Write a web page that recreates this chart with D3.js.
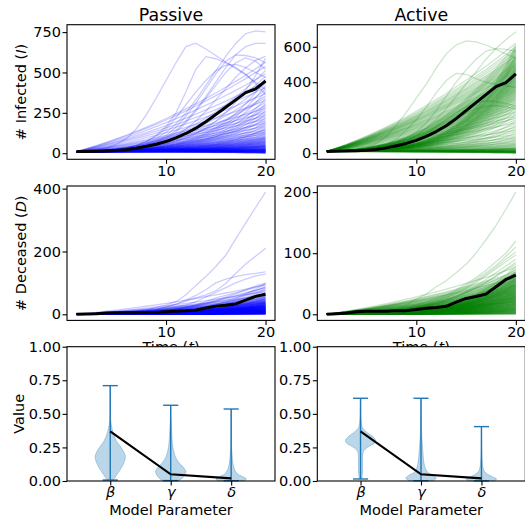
<!DOCTYPE html>
<html><head><meta charset="utf-8">
<script src="https://cdn.jsdelivr.net/npm/d3@7"></script>
<style>
body{margin:0;background:#fff}
svg text{font-family:"DejaVu Sans",sans-serif;fill:#000}
</style>
</head><body>
<svg id="chart" width="525" height="520"></svg>
<script>
// ---------------- DATA ----------------
const times = d3.range(1, 21);
const panelTitles = ["Passive", "Active"];
const observedInfected = [10,11,12,14,17,21,30,42,55,72,95,122,155,195,240,285,330,375,398,447];
const observedDeceased = [0,1,2,4,5,5,5,6,6,8,10,11,13,20,26,29,33,45,57,64];

// normalised growth shapes (0 at t=1, 1 at t=20) read from the bundles
const shapeSteady = [0,.004,.011,.021,.035,.053,.075,.103,.137,.177,.224,.279,.342,.412,.49,.577,.671,.773,.882,1];
const shapeLinear = [0,.032,.066,.103,.142,.183,.227,.272,.32,.371,.423,.478,.535,.595,.657,.721,.787,.856,.927,1];
const shapeLate   = [0,.001,.004,.008,.014,.021,.03,.043,.059,.081,.11,.147,.193,.252,.326,.417,.527,.658,.815,1];

// end-of-run (t=20) distributions of the simulated bundles: bin edges and line counts
const passiveInfectedEndBins   = [0,25,50,75,100,150,200,250,300,350,400,450,500,550,600];
const passiveInfectedEndCounts = [35,20,13,10,11,8,7,6,5,4,4,3,2,2];
const activeInfectedEndBins    = [0,15,30,60,100,150,200,250,300,350,400,450,500,550,600,625];
const activeInfectedEndCounts  = [25,12,9,7,6,6,7,10,13,16,18,18,15,10,3];
const passiveDeceasedEndBins   = [0,10,20,30,40,50,60,80,100];
const passiveDeceasedEndCounts = [40,35,28,20,12,8,7,5];
const activeDeceasedEndBins    = [0,10,20,30,40,50,60,70,80];
const activeDeceasedEndCounts  = [32,30,30,28,26,22,14,5];

// individually readable trajectories
const passiveInfectedOutliers = [
  [10,14,20,32,55,90,150,236,340,450,560,660,681,645,605,565,525,485,440,395],
  [10,12,14,18,24,33,48,72,110,165,250,380,520,598,585,560,530,490,430,365],
  [10,11,13,16,21,28,40,60,90,130,180,250,330,420,510,600,680,740,758,752],
  [10,11,12,14,18,24,34,50,70,100,140,200,270,350,440,530,610,660,680,680],
  [10,11,13,16,20,27,38,55,80,110,160,230,310,400,490,570,608,605,590,560],
  [10,11,12,15,19,25,35,50,68,90,130,190,260,340,420,500,560,590,570,520],
  [10,11,12,14,17,22,30,42,58,80,110,150,200,260,330,400,470,530,575,600],
  [10,12,14,18,24,33,48,70,105,150,220,300,380,450,510,545,550,530,500,470]
];
const activeInfectedOutliers = [
  [10,12,15,22,35,55,95,160,230,310,390,480,560,610,633,628,610,585,560,535],
  [10,11,13,16,22,32,50,80,130,190,260,340,410,450,445,420,400,390,380,370],
  [10,11,12,14,17,22,30,42,60,100,140,190,250,320,390,460,530,590,640,685],
  [10,11,13,16,21,28,40,58,85,120,170,240,320,400,470,530,575,590,585,575],
  [10,11,12,14,17,22,30,42,58,80,110,150,190,230,260,285,295,290,280,265],
  [10,11,12,14,17,21,28,38,52,70,95,125,160,195,225,250,265,268,262,250]
];
const passiveDeceasedOutliers = [
  [0,1,2,3,5,7,10,14,22,30,40,62,92,120,152,188,240,290,340,389],
  [0,1,2,3,4,6,8,11,15,25,32,42,52,62,75,98,130,160,185,210],
  [0,1,2,3,4,6,8,11,15,22,32,45,60,78,100,112,120,126,130,135],
  [0,1,2,3,4,5,7,9,12,18,24,30,40,55,70,85,100,112,122,128],
  [0,1,2,3,4,5,6,8,10,13,17,22,28,36,45,55,66,78,90,100],
  [0,1,2,3,4,5,6,7,9,12,16,22,30,40,52,60,68,76,86,95],
  [0,1,2,3,4,5,6,7,9,11,14,18,24,32,42,52,60,68,76,85]
];
const activeDeceasedOutliers = [
  [0,1,2,3,4,6,8,11,15,25,33,45,55,68,82,100,122,145,172,200],
  [0,1,2,3,4,5,7,9,12,16,20,26,32,40,50,60,72,86,100,120],
  [0,1,2,3,4,5,7,9,12,15,19,24,30,38,47,57,68,80,95,110],
  [0,1,2,3,4,5,6,8,10,13,17,22,28,35,44,54,65,77,90,102],
  [0,1,2,3,4,5,6,8,10,13,16,21,27,34,42,52,63,74,86,97],
  [0,1,2,3,4,5,6,7,9,12,15,19,24,30,38,47,57,68,79,90],
  [0,1,2,3,4,5,6,7,9,11,14,18,23,29,36,44,53,63,74,85],
  [0,1,2,3,4,5,6,7,8,10,13,17,22,28,35,43,52,62,72,82]
];

const yTicksInfected = [[0,250,500,750],[0,200,400,600]];
const yTicksDeceased = [[0,200,400],[0,100,200]];
const yMaxInfected = [758, 690];
const yMaxDeceased = [389, 200];

// violin plot data
const paramLabels = ["β","γ","δ"];
const trueParams = [0.37, 0.05, 0.02];
const passiveParamMin = [0.007, 0.003, 0.002];
const passiveParamMax = [0.71, 0.564, 0.536];
const activeParamMin  = [0.015, 0.002, 0.001];
const activeParamMax  = [0.616, 0.616, 0.405];
// [value, relative density width]
const passiveViolins = [
  [[0.007,.2],[0.02,.28],[0.05,.45],[0.1,.75],[0.15,.95],[0.18,1],[0.22,.88],[0.26,.65],[0.3,.4],[0.34,.25],[0.38,.14],[0.42,.07],[0.46,.03],[0.52,.01],[0.6,.004],[0.71,0]],
  [[0.003,.55],[0.02,.75],[0.05,.95],[0.07,1],[0.1,.85],[0.13,.6],[0.16,.4],[0.2,.25],[0.25,.15],[0.3,.1],[0.38,.06],[0.45,.03],[0.52,.01],[0.564,0]],
  [[0.002,.9],[0.015,1],[0.03,.8],[0.05,.45],[0.07,.3],[0.1,.18],[0.15,.1],[0.2,.06],[0.25,.03],[0.35,.01],[0.536,0]]
];
const activeViolins = [
  [[0.015,.08],[0.05,.12],[0.1,.14],[0.15,.13],[0.2,.15],[0.23,.25],[0.26,.6],[0.28,.9],[0.3,1],[0.32,.9],[0.34,.7],[0.36,.45],[0.38,.25],[0.4,.12],[0.43,.06],[0.5,.02],[0.616,0]],
  [[0.002,.8],[0.02,1],[0.04,.85],[0.06,.5],[0.08,.35],[0.12,.22],[0.18,.15],[0.25,.1],[0.32,.06],[0.4,.03],[0.5,.01],[0.616,0]],
  [[0.001,.85],[0.015,1],[0.03,.75],[0.05,.4],[0.07,.2],[0.1,.1],[0.15,.05],[0.25,.02],[0.405,0]]
];
const violinTicks = [0, 0.25, 0.5, 0.75, 1.0];

// ---------------- LAYOUT ----------------
const svg = d3.select("#chart");
const colLeft = [67, 317.3], colW = 208;
const rowTop = [24.7, 186, 346.7], rowH = [134.6, 134.4, 134.3];
const FS = 14.5;
const infectedShapes = [shapeSteady, shapeLinear, shapeLate];
const deceasedShapes = [shapeSteady, shapeLate, shapeLinear, shapeLate];

function bulkLines(start, bins, counts, shapes) {
  const out = [];
  counts.forEach((n, j) => {
    for (let k = 0; k < n; k++) {
      const end = bins[j] + (k + 0.5) / n * (bins[j + 1] - bins[j]);
      const shape = shapes[(k + j) % shapes.length];
      out.push(shape.map(s => start + (end - start) * s));
    }
  });
  return out;
}

function styleAxis(g) {
  g.select(".domain").remove();
  g.selectAll(".tick line").attr("stroke", "#000").attr("stroke-width", 1.1);
  g.selectAll(".tick text").attr("font-size", FS).attr("fill", "#000");
}

let clipId = 0;
function linePanel(col, row, lines, outliers, observed, color, yMax, yTicks, opts) {
  const L = colLeft[col], T = rowTop[row], W = colW, H = rowH[row];
  const g = svg.append("g");
  g.append("rect").attr("x", L).attr("y", T).attr("width", W).attr("height", H).attr("fill", "#fff");
  const x = d3.scaleLinear().domain([0.05, 20.95]).range([L, L + W]);
  const y = d3.scaleLinear().domain([-0.05 * yMax, 1.05 * yMax]).range([T + H, T]);
  const id = "clip" + (clipId++);
  svg.append("clipPath").attr("id", id).append("rect").attr("x", L).attr("y", T).attr("width", W).attr("height", H);
  const line = d3.line().x((d, i) => x(times[i])).y(d => y(d));
  const lg = g.append("g").attr("clip-path", `url(#${id})`);
  lg.selectAll("path.sim").data(lines.concat(outliers)).join("path")
    .attr("class", "sim").attr("d", line).attr("fill", "none")
    .attr("stroke", color).attr("stroke-opacity", 0.2).attr("stroke-width", 1.3);
  lg.append("path").attr("d", line(observed)).attr("fill", "none")
    .attr("stroke", "#000").attr("stroke-width", 3).attr("stroke-linejoin", "round");
  g.append("g").attr("transform", `translate(0,${T + H})`)
    .call(d3.axisBottom(x).tickValues([10, 20]).tickSize(4.5).tickPadding(1.5).tickSizeOuter(0))
    .call(styleAxis);
  g.append("g").attr("transform", `translate(${L},0)`)
    .call(d3.axisLeft(y).tickValues(yTicks).tickSize(4.5).tickPadding(1.5).tickSizeOuter(0))
    .call(styleAxis);
  g.append("rect").attr("x", L).attr("y", T).attr("width", W).attr("height", H)
    .attr("fill", "none").attr("stroke", "#000").attr("stroke-width", 1.1);
  if (opts.title) {
    g.append("text").attr("x", L + W / 2).attr("y", 20.7).attr("text-anchor", "middle")
      .attr("font-size", 17.4).text(opts.title);
  }
  if (opts.ylabel) {
    const t = g.append("text").attr("transform", `translate(26,${T + H / 2}) rotate(-90)`)
      .attr("text-anchor", "middle").attr("font-size", FS);
    t.append("tspan").text(opts.ylabel[0]);
    t.append("tspan").attr("font-style", "italic").text(opts.ylabel[1]);
    t.append("tspan").text(opts.ylabel[2]);
  }
  if (opts.xlabel) {
    const t = g.append("text").attr("x", L + W / 2).attr("y", 352).attr("text-anchor", "middle")
      .attr("font-size", FS);
    t.append("tspan").text("Time (");
    t.append("tspan").attr("font-style", "italic").text("t");
    t.append("tspan").text(")");
  }
}

function violinPanel(col, profiles, pMin, pMax, showY) {
  const L = colLeft[col], T = rowTop[2], W = colW, H = rowH[2];
  const g = svg.append("g");
  g.append("rect").attr("x", L).attr("y", T).attr("width", W).attr("height", H).attr("fill", "#fff");
  const x = d3.scaleLinear().domain([0.285, 3.725]).range([L, L + W]);
  const y = d3.scaleLinear().domain([0, 1]).range([T + H, T]);
  const halfW = x(1.25) - x(1);
  const capW = x(1.125) - x(1);
  profiles.forEach((prof, i) => {
    const cx = x(i + 1);
    const area = d3.area().curve(d3.curveMonotoneY)
      .y(d => y(d[0])).x0(d => cx - halfW * d[1]).x1(d => cx + halfW * d[1]);
    g.append("path").attr("d", area(prof)).attr("fill", "#1f77b4").attr("fill-opacity", 0.3)
      .attr("stroke", "#1f77b4").attr("stroke-opacity", 0.3).attr("stroke-width", 1);
  });
  profiles.forEach((prof, i) => {
    const cx = x(i + 1);
    g.append("line").attr("x1", cx).attr("x2", cx).attr("y1", y(pMin[i])).attr("y2", y(pMax[i]))
      .attr("stroke", "#1f77b4").attr("stroke-width", 1.4);
    [pMin[i], pMax[i]].forEach(v => {
      g.append("line").attr("x1", cx - capW).attr("x2", cx + capW).attr("y1", y(v)).attr("y2", y(v))
        .attr("stroke", "#1f77b4").attr("stroke-width", 1.4);
    });
  });
  g.append("path").attr("d", d3.line().x((d, i) => x(i + 1)).y(d => y(d))(trueParams))
    .attr("fill", "none").attr("stroke", "#000").attr("stroke-width", 2.2);
  const xa = g.append("g").attr("transform", `translate(0,${T + H})`)
    .call(d3.axisBottom(x).tickValues([1, 2, 3]).tickFormat((d, i) => paramLabels[i])
      .tickSize(4.5).tickPadding(1.5).tickSizeOuter(0))
    .call(styleAxis);
  xa.selectAll(".tick text").attr("font-style", "italic");
  g.append("g").attr("transform", `translate(${L},0)`)
    .call(d3.axisLeft(y).tickValues(violinTicks).tickFormat(d3.format(".2f"))
      .tickSize(4.5).tickPadding(1.5).tickSizeOuter(0))
    .call(styleAxis);
  g.append("rect").attr("x", L).attr("y", T).attr("width", W).attr("height", H)
    .attr("fill", "none").attr("stroke", "#000").attr("stroke-width", 1.1);
  g.append("text").attr("x", L + W / 2).attr("y", 515).attr("text-anchor", "middle")
    .attr("font-size", FS).text("Model Parameter");
  if (showY) {
    g.append("text").attr("transform", `translate(24,${T + H / 2}) rotate(-90)`)
      .attr("text-anchor", "middle").attr("font-size", FS).text("Value");
  }
}

// ---------------- DRAW ----------------
const passiveInfectedLines = bulkLines(10, passiveInfectedEndBins, passiveInfectedEndCounts, infectedShapes);
const activeInfectedLines  = bulkLines(10, activeInfectedEndBins, activeInfectedEndCounts, infectedShapes);
const passiveDeceasedLines = bulkLines(0, passiveDeceasedEndBins, passiveDeceasedEndCounts, deceasedShapes);
const activeDeceasedLines  = bulkLines(0, activeDeceasedEndBins, activeDeceasedEndCounts, deceasedShapes);

linePanel(0, 0, passiveInfectedLines, passiveInfectedOutliers, observedInfected, "#0000ff",
  yMaxInfected[0], yTicksInfected[0], {title: panelTitles[0], ylabel: ["# Infected (", "I", ")"]});
linePanel(1, 0, activeInfectedLines, activeInfectedOutliers, observedInfected, "#008000",
  yMaxInfected[1], yTicksInfected[1], {title: panelTitles[1]});
linePanel(0, 1, passiveDeceasedLines, passiveDeceasedOutliers, observedDeceased, "#0000ff",
  yMaxDeceased[0], yTicksDeceased[0], {ylabel: ["# Deceased (", "D", ")"], xlabel: true});
linePanel(1, 1, activeDeceasedLines, activeDeceasedOutliers, observedDeceased, "#008000",
  yMaxDeceased[1], yTicksDeceased[1], {xlabel: true});
violinPanel(0, passiveViolins, passiveParamMin, passiveParamMax, true);
violinPanel(1, activeViolins, activeParamMin, activeParamMax, false);
</script>
</body></html>
